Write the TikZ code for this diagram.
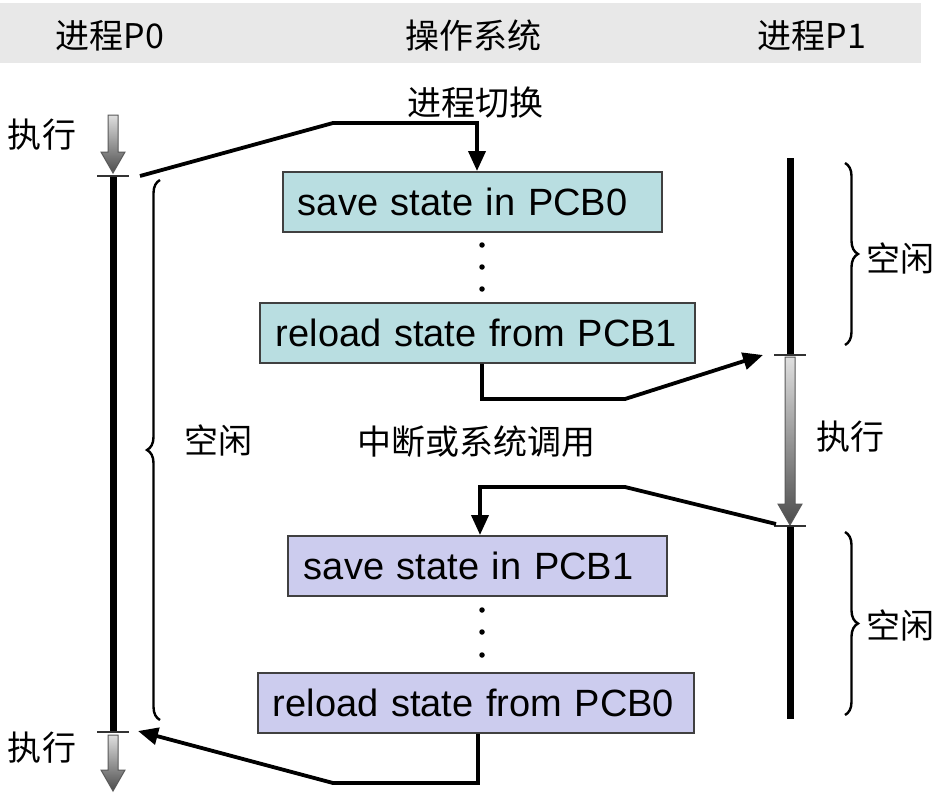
\documentclass[tikz,border=0pt]{standalone}
\usepackage{fontspec}
\setmainfont{Liberation Sans}
\newfontfamily\cjk{Noto Sans CJK SC}
\usetikzlibrary{arrows.meta,decorations.pathreplacing}
\definecolor{tealbox}{RGB}{185,222,225}
\definecolor{lavbox}{RGB}{204,204,238}
\definecolor{band}{RGB}{232,232,232}
\begin{document}
\begin{tikzpicture}[x=1pt,y=-1pt,
  pbox/.style={draw=black!75,line width=1.8pt,minimum height=60pt,inner ysep=0pt,
    align=left,anchor=north west,font=\fontsize{38}{44}\selectfont},
  lbl/.style={font=\cjk\fontsize{34}{38}\selectfont,inner sep=0pt},
  conn/.style={line width=3.8pt,-{Triangle[length=20pt,width=17pt]}},
  timeline/.style={line width=7pt},
  tick/.style={line width=2.2pt,draw=black!80},
  brc/.style={decorate,decoration={brace,amplitude=13pt},line width=2.4pt},
  dot/.style={circle,fill=black,inner sep=0pt,minimum size=5.5pt}]
\useasboundingbox (0,0) rectangle (941,797);
% header band
\fill[band] (0,3) rectangle (921,63);
\node[lbl] (h0) at (110,36) {进程P0};
\node[lbl] (h1) at (473,36) {操作系统};
\node[lbl] (h2) at (812,36) {进程P1};
\node[lbl] (sw) at (475,103) {进程切换};
\node[lbl] (e0) at (42,135) {执行};
\node[lbl] (e1) at (42,748) {执行};
\node[lbl] (e2) at (850,437) {执行};
\node[lbl] (i0) at (218,440) {空闲};
\node[lbl] (i1) at (900,258) {空闲};
\node[lbl] (i2) at (900,625) {空闲};
\node[lbl] (intr) at (476,442) {中断或系统调用};
% gray arrows
\newcommand{\grayarrow}[3]{%
  \shade[top color=gray!25,bottom color=black!70,draw=black!65,line width=1pt]
   (#1-5,#2) -- (#1+5,#2) -- (#1+5,#3-21) -- (#1+12,#3-21) -- (#1,#3)
   -- (#1-12,#3-21) -- (#1-5,#3-21) -- cycle;}
\grayarrow{113}{115}{173}
\grayarrow{113}{735}{791}
\grayarrow{790}{357}{525}
% timelines
\draw[timeline] (113,176) -- (113,732);
\draw[timeline] (790,158) -- (790,355);
\draw[timeline] (790,526) -- (790,719);
\draw[tick] (97,176) -- (129,176);
\draw[tick] (97,732) -- (129,732);
\draw[tick] (774,355) -- (806,355);
\draw[tick] (774,526) -- (806,526);
% braces
\draw[brc] (160,720) -- (160,180);
\draw[brc] (845,163) -- (845,345);
\draw[brc] (845,532) -- (845,715);
% boxes
\node[pbox,fill=tealbox,text width=349pt,inner xsep=15pt] (b1) at (282,171) {save state in PCB0};
\node[pbox,fill=tealbox,text width=403pt,inner xsep=16pt] (b2) at (259,302) {reload state from PCB1};
\node[pbox,fill=lavbox,text width=347pt,inner xsep=16pt] (b3) at (287,535) {save state in PCB1};
\node[pbox,fill=lavbox,text width=406pt,inner xsep=15pt] (b4) at (257,672) {reload state from PCB0};
% dots
\foreach \y/\n in {245/a,267/b,289/c,610/d,632/e,655/f} \node[dot] (d\n) at (482,\y) {};
% connectors
\coordinate (p0a) at (140,176);
\coordinate (p0b) at (138,731);
\coordinate (p1a) at (763,355);
\coordinate (p1b) at (776,524);
\coordinate (c1) at (477,123);
\coordinate (c2) at (482,399);
\coordinate (c3) at (480,487);
\coordinate (c4) at (478,783);
\draw[conn] (p0a) -- (333,123) -- (c1) -- (c1 |- b1.north);
\draw[conn] (b2.south -| c2) -- (c2) -- (625,399) -- (p1a);
\draw[conn] (p1b) -- (625,487) -- (c3) -- (c3 |- b3.north);
\draw[conn] (b4.south -| c4) -- (c4) -- (333,783) -- (p0b);
\end{tikzpicture}
\end{document}
